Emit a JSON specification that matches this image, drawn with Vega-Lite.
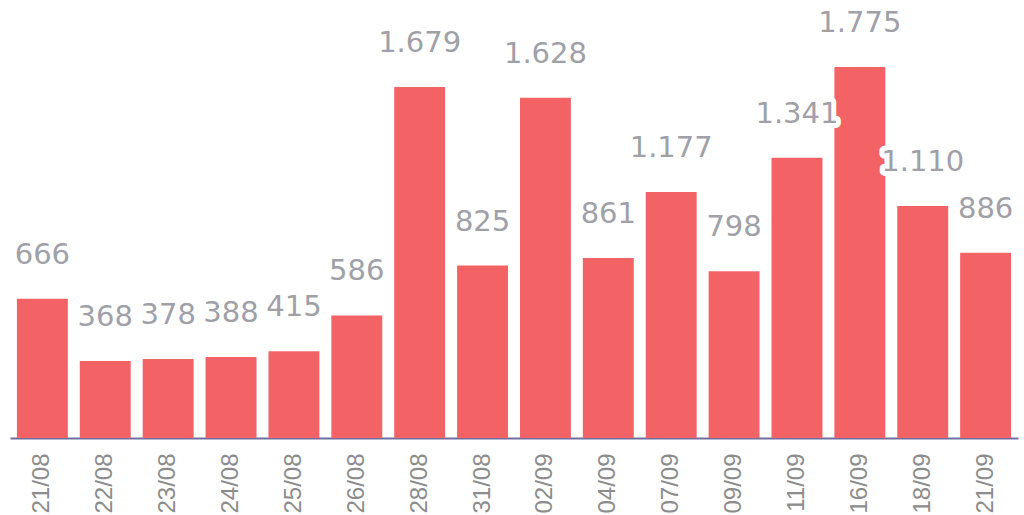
{
  "$schema": "https://vega.github.io/schema/vega-lite/v6.json",
  "width": 1008,
  "height": 438,
  "autosize": {"type": "none"},
  "padding": {"left": 10, "top": 0, "right": 6, "bottom": 77},
  "background": "white",
  "config": {"view": {"stroke": null}},
  "data": {
    "values": [
      {"date": "21/08", "value": 666, "label": "666"},
      {"date": "22/08", "value": 368, "label": "368"},
      {"date": "23/08", "value": 378, "label": "378"},
      {"date": "24/08", "value": 388, "label": "388"},
      {"date": "25/08", "value": 415, "label": "415"},
      {"date": "26/08", "value": 586, "label": "586"},
      {"date": "28/08", "value": 1679, "label": "1.679"},
      {"date": "31/08", "value": 825, "label": "825"},
      {"date": "02/09", "value": 1628, "label": "1.628"},
      {"date": "04/09", "value": 861, "label": "861"},
      {"date": "07/09", "value": 1177, "label": "1.177"},
      {"date": "09/09", "value": 798, "label": "798"},
      {"date": "11/09", "value": 1341, "label": "1.341"},
      {"date": "16/09", "value": 1775, "label": "1.775"},
      {"date": "18/09", "value": 1110, "label": "1.110"},
      {"date": "21/09", "value": 886, "label": "886"}
    ]
  },
  "encoding": {
    "x": {
      "field": "date",
      "type": "ordinal",
      "sort": null,
      "scale": {"paddingInner": 0.19, "paddingOuter": 0.11},
      "axis": {
        "title": null,
        "domain": true,
        "domainColor": "#6f6fa0",
        "domainWidth": 2,
        "ticks": false,
        "tickSize": 0,
        "labelAngle": -90,
        "labelFont": "Liberation Sans",
        "labelFontSize": 24,
        "labelColor": "#8c8c8c",
        "labelPadding": 15
      }
    },
    "y": {
      "field": "value",
      "type": "quantitative",
      "scale": {"domain": [0, 2095]},
      "axis": null
    }
  },
  "layer": [
    {"mark": {"type": "bar", "color": "#f36366"}},
    {
      "mark": {"type": "text", "baseline": "bottom", "dy": -29, "font": "DejaVu Sans", "fontSize": 29, "fill": "white", "stroke": "white", "strokeWidth": 10, "strokeJoin": "round"},
      "encoding": {"text": {"field": "label"}}
    },
    {
      "mark": {"type": "text", "baseline": "bottom", "dy": -29, "font": "DejaVu Sans", "fontSize": 29, "fill": "#9fa0a8"},
      "encoding": {"text": {"field": "label"}}
    }
  ]
}
